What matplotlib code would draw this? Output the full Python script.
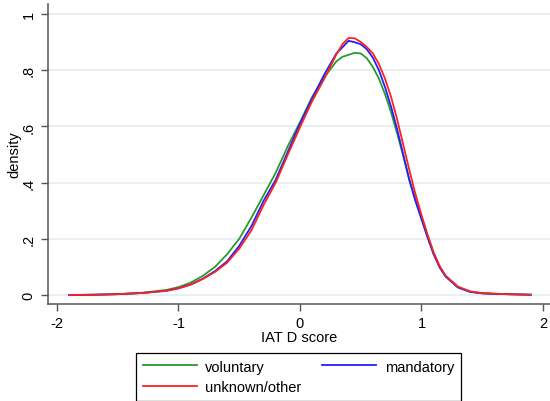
import matplotlib
matplotlib.use("Agg")
import matplotlib.pyplot as plt

plt.rcParams['font.family'] = ['Liberation Sans', 'DejaVu Sans']

# kernel density estimates of the IAT D score by participation type
score = [-1.9, -1.7, -1.5, -1.3, -1.1, -1.0, -0.9, -0.8, -0.7, -0.6, -0.5, -0.4,
         -0.3, -0.2, -0.1, 0.0, 0.1, 0.2, 0.3, 0.35, 0.4, 0.45, 0.5, 0.55, 0.6,
         0.65, 0.7, 0.75, 0.8, 0.85, 0.9, 0.95, 1.0, 1.05, 1.1, 1.15, 1.2, 1.3,
         1.4, 1.5, 1.6, 1.7, 1.8, 1.9]

voluntary = [0.0, 0.001, 0.003, 0.008, 0.018, 0.028, 0.044, 0.068, 0.1, 0.145,
             0.2, 0.275, 0.355, 0.435, 0.53, 0.615, 0.705, 0.775, 0.832, 0.848,
             0.855, 0.862, 0.86, 0.843, 0.812, 0.77, 0.715, 0.65, 0.575, 0.495,
             0.41, 0.34, 0.275, 0.21, 0.148, 0.1, 0.067, 0.028, 0.012, 0.006,
             0.004, 0.003, 0.002, 0.001]

mandatory = [0.0, 0.001, 0.003, 0.007, 0.015, 0.024, 0.037, 0.058, 0.085, 0.12,
             0.175, 0.245, 0.335, 0.41, 0.51, 0.61, 0.70, 0.785, 0.86, 0.882,
             0.905, 0.9, 0.893, 0.875, 0.845, 0.80, 0.74, 0.67, 0.59, 0.5,
             0.41, 0.335, 0.27, 0.205, 0.145, 0.098, 0.065, 0.027, 0.011, 0.006,
             0.004, 0.003, 0.002, 0.001]

unknown = [0.0, 0.001, 0.003, 0.007, 0.015, 0.024, 0.037, 0.057, 0.082, 0.115,
           0.165, 0.23, 0.32, 0.40, 0.50, 0.597, 0.69, 0.77, 0.857, 0.893,
           0.915, 0.914, 0.901, 0.883, 0.86, 0.822, 0.77, 0.705, 0.625, 0.535,
           0.445, 0.36, 0.285, 0.215, 0.152, 0.103, 0.068, 0.03, 0.013, 0.007,
           0.005, 0.003, 0.002, 0.001]

yticks = [0, 0.2, 0.4, 0.6, 0.8, 1]
ytick_labels = ["0", ".2", ".4", ".6", ".8", "1"]
xticks = [-2, -1, 0, 1, 2]

fig = plt.figure(figsize=(5.5, 4.02), dpi=100)
ax = fig.add_axes([48 / 550, 97 / 402, 502 / 550, 300 / 402])

l1, = ax.plot(score, voluntary, color='#2a9a2a', lw=1.3, label='voluntary')
l2, = ax.plot(score, mandatory, color='#2020ff', lw=1.3, label='mandatory')
l3, = ax.plot(score, unknown, color='#ff2020', lw=1.3, label='unknown/other')

ax.set_xlim(-2.074, 2.058)
ax.set_ylim(-0.032, 1.036)
ax.set_xticks(xticks)
ax.set_xticklabels([str(t) for t in xticks])
ax.set_yticks(yticks)
ax.set_yticklabels(ytick_labels, rotation=90, va='center')
ax.yaxis.grid(True, color='#e6eef0', lw=1.3)
ax.set_axisbelow(True)

for side in ('top', 'right'):
    ax.spines[side].set_visible(False)
for side in ('left', 'bottom'):
    ax.spines[side].set_color('#555555')
    ax.spines[side].set_linewidth(1.1)
ax.tick_params(direction='out', length=5, width=1.0, color='#555555',
               labelsize=10.5, pad=4)

ax.set_xlabel('IAT D score', fontsize=10.5, labelpad=0)
ax.set_ylabel('density', fontsize=10.5, labelpad=0)

fig.legend([l1, l3, l2], ['voluntary', 'unknown/other', 'mandatory'],
           ncol=2, loc='upper left', bbox_to_anchor=(136 / 550, 1 - 354 / 402),
           fontsize=10.5, frameon=True, fancybox=False, edgecolor='black',
           framealpha=1, handlelength=3.7, handletextpad=0.6, columnspacing=1.4,
           borderpad=0.45, labelspacing=0.45, borderaxespad=0)
fig.legends[0].get_frame().set_linewidth(0.9)

fig.savefig('out.png', dpi=100, facecolor='white')
